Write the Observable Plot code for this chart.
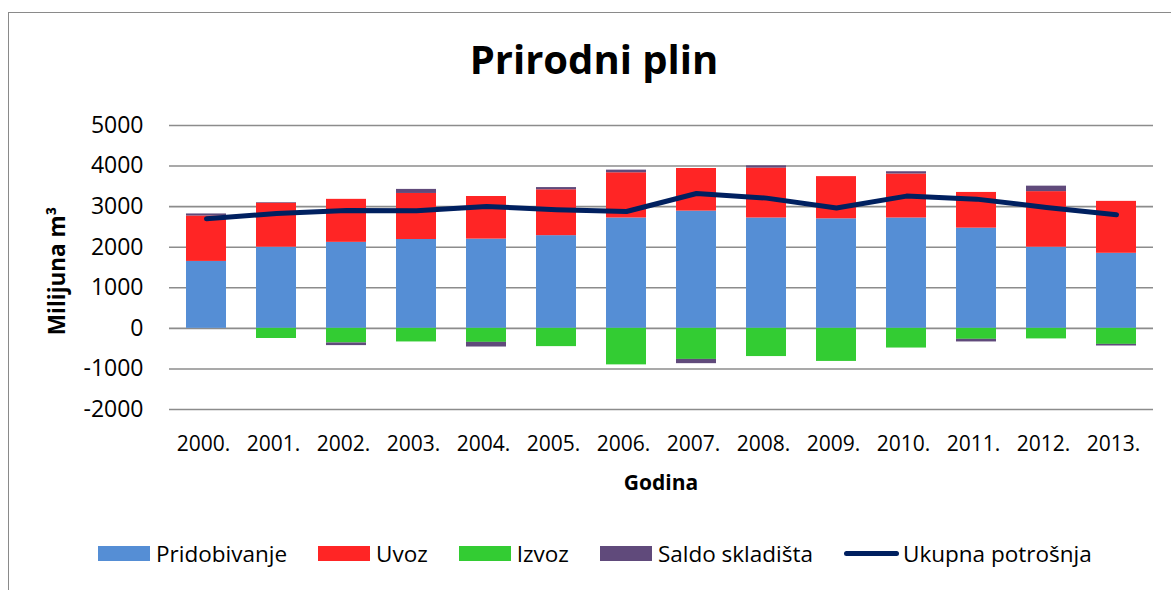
<!DOCTYPE html>
<html>
<head>
<meta charset="utf-8">
<script src="https://cdn.jsdelivr.net/npm/d3@7"></script>
<script src="https://cdn.jsdelivr.net/npm/@observablehq/plot@0.6"></script>
<style>
  html, body { margin: 0; padding: 0; background: #fff; }
  body { width: 1171px; height: 590px; overflow: hidden; position: relative; font-family: "Open Sans", sans-serif; color: #000; }
  #frame { position: absolute; left: 8px; top: 12px; width: 1200px; height: 620px; border: 1.5px solid #8a8a8a; box-sizing: border-box; }
  #title { position: absolute; left: 0; width: 1188px; top: 35px; text-align: center; font-weight: bold; font-size: 40px; line-height: 1.2; }
  #chart { position: absolute; left: 0; top: 0; }
  #ylabel { position: absolute; left: 57px; top: 271px; transform: translate(-50%, -50%) rotate(-90deg); font-weight: bold; font-size: 22.5px; white-space: nowrap; line-height: 1; }
  #xlabel { position: absolute; left: 0; width: 1322px; top: 470px; text-align: center; font-weight: bold; font-size: 21px; line-height: 1.2; }
  #legend { position: absolute; left: 98px; top: 540px; display: flex; align-items: center; font-size: 22.5px; white-space: nowrap; line-height: 1.2; }
  .item { display: flex; align-items: center; margin-right: 31px; }
  .sw { width: 52px; height: 15px; margin-right: 6px; }
  .ln { width: 55px; height: 5px; border-radius: 3px; margin-right: 4px; }
</style>
</head>
<body>
<div id="frame"></div>
<div id="title">Prirodni plin</div>
<div id="chart"></div>
<div id="ylabel">Milijuna m³</div>
<div id="xlabel">Godina</div>
<div id="legend"></div>
<script>
const years = ["2000.", "2001.", "2002.", "2003.", "2004.", "2005.", "2006.", "2007.", "2008.", "2009.", "2010.", "2011.", "2012.", "2013."];
const seriesNames = ["Pridobivanje", "Uvoz", "Izvoz", "Saldo skladišta"];
const seriesColors = ["#558ed5", "#ff2525", "#33cc33", "#604a7b"];
const pridobivanje = [1650, 2000, 2120, 2190, 2200, 2285, 2720, 2890, 2720, 2700, 2720, 2470, 2000, 1850];
const uvoz = [1120, 1085, 1060, 1135, 1050, 1130, 1115, 1050, 1230, 1040, 1085, 880, 1370, 1280];
const izvoz = [0, -250, -360, -335, -345, -450, -900, -765, -695, -815, -485, -270, -260, -395];
const saldo = [50, 15, -65, 100, -115, 55, 65, -105, 55, 0, 55, -65, 135, -40];
const totalName = "Ukupna potrošnja";
const totalColor = "#002060";
const ukupno = [2700, 2830, 2905, 2900, 3005, 2925, 2880, 3325, 3210, 2965, 3260, 3185, 2980, 2800];
const yTicks = [-2000, -1000, 0, 1000, 2000, 3000, 4000, 5000];

const seriesValues = [pridobivanje, uvoz, izvoz, saldo];
const rows = [];
seriesNames.forEach((s, i) => years.forEach((y, j) => rows.push({year: y, series: s, value: seriesValues[i][j]})));
const totals = years.map((y, j) => ({year: y, value: ukupno[j]}));

const chart = Plot.plot({
  width: 1171,
  height: 520,
  marginTop: 125,
  marginBottom: 111,
  marginLeft: 169,
  marginRight: 18,
  style: {fontFamily: "Open Sans", fontSize: "21px", color: "#000", background: "transparent", overflow: "visible"},
  x: {domain: years, paddingInner: 0.43, paddingOuter: 0.215, label: null},
  y: {domain: [-2000, 5000], label: null},
  color: {domain: seriesNames, range: seriesColors},
  marks: [
    Plot.gridY(yTicks, {stroke: "#8c8c8c", strokeOpacity: 1, strokeWidth: 1.6}),
    Plot.barY(rows, {x: "year", y: "value", fill: "series", order: seriesNames}),
    Plot.line(totals, {x: "year", y: "value", stroke: totalColor, strokeWidth: 5, strokeLinecap: "round", strokeLinejoin: "round"}),
    Plot.axisX({tickSize: 0, tickPadding: 27, label: null, dx: -3, fontSize: 21}),
    Plot.axisY(yTicks, {tickSize: 0, tickPadding: 26, label: null, fontSize: 23, tickFormat: d => String(d)})
  ]
});
document.getElementById("chart").appendChild(chart);

const legend = document.getElementById("legend");
seriesNames.forEach((s, i) => {
  const it = document.createElement("div");
  it.className = "item";
  it.innerHTML = `<div class="sw" style="background:${seriesColors[i]}"></div><span>${s}</span>`;
  legend.appendChild(it);
});
const it = document.createElement("div");
it.className = "item";
it.innerHTML = `<div class="ln" style="background:${totalColor}"></div><span>${totalName}</span>`;
legend.appendChild(it);
</script>
</body>
</html>
